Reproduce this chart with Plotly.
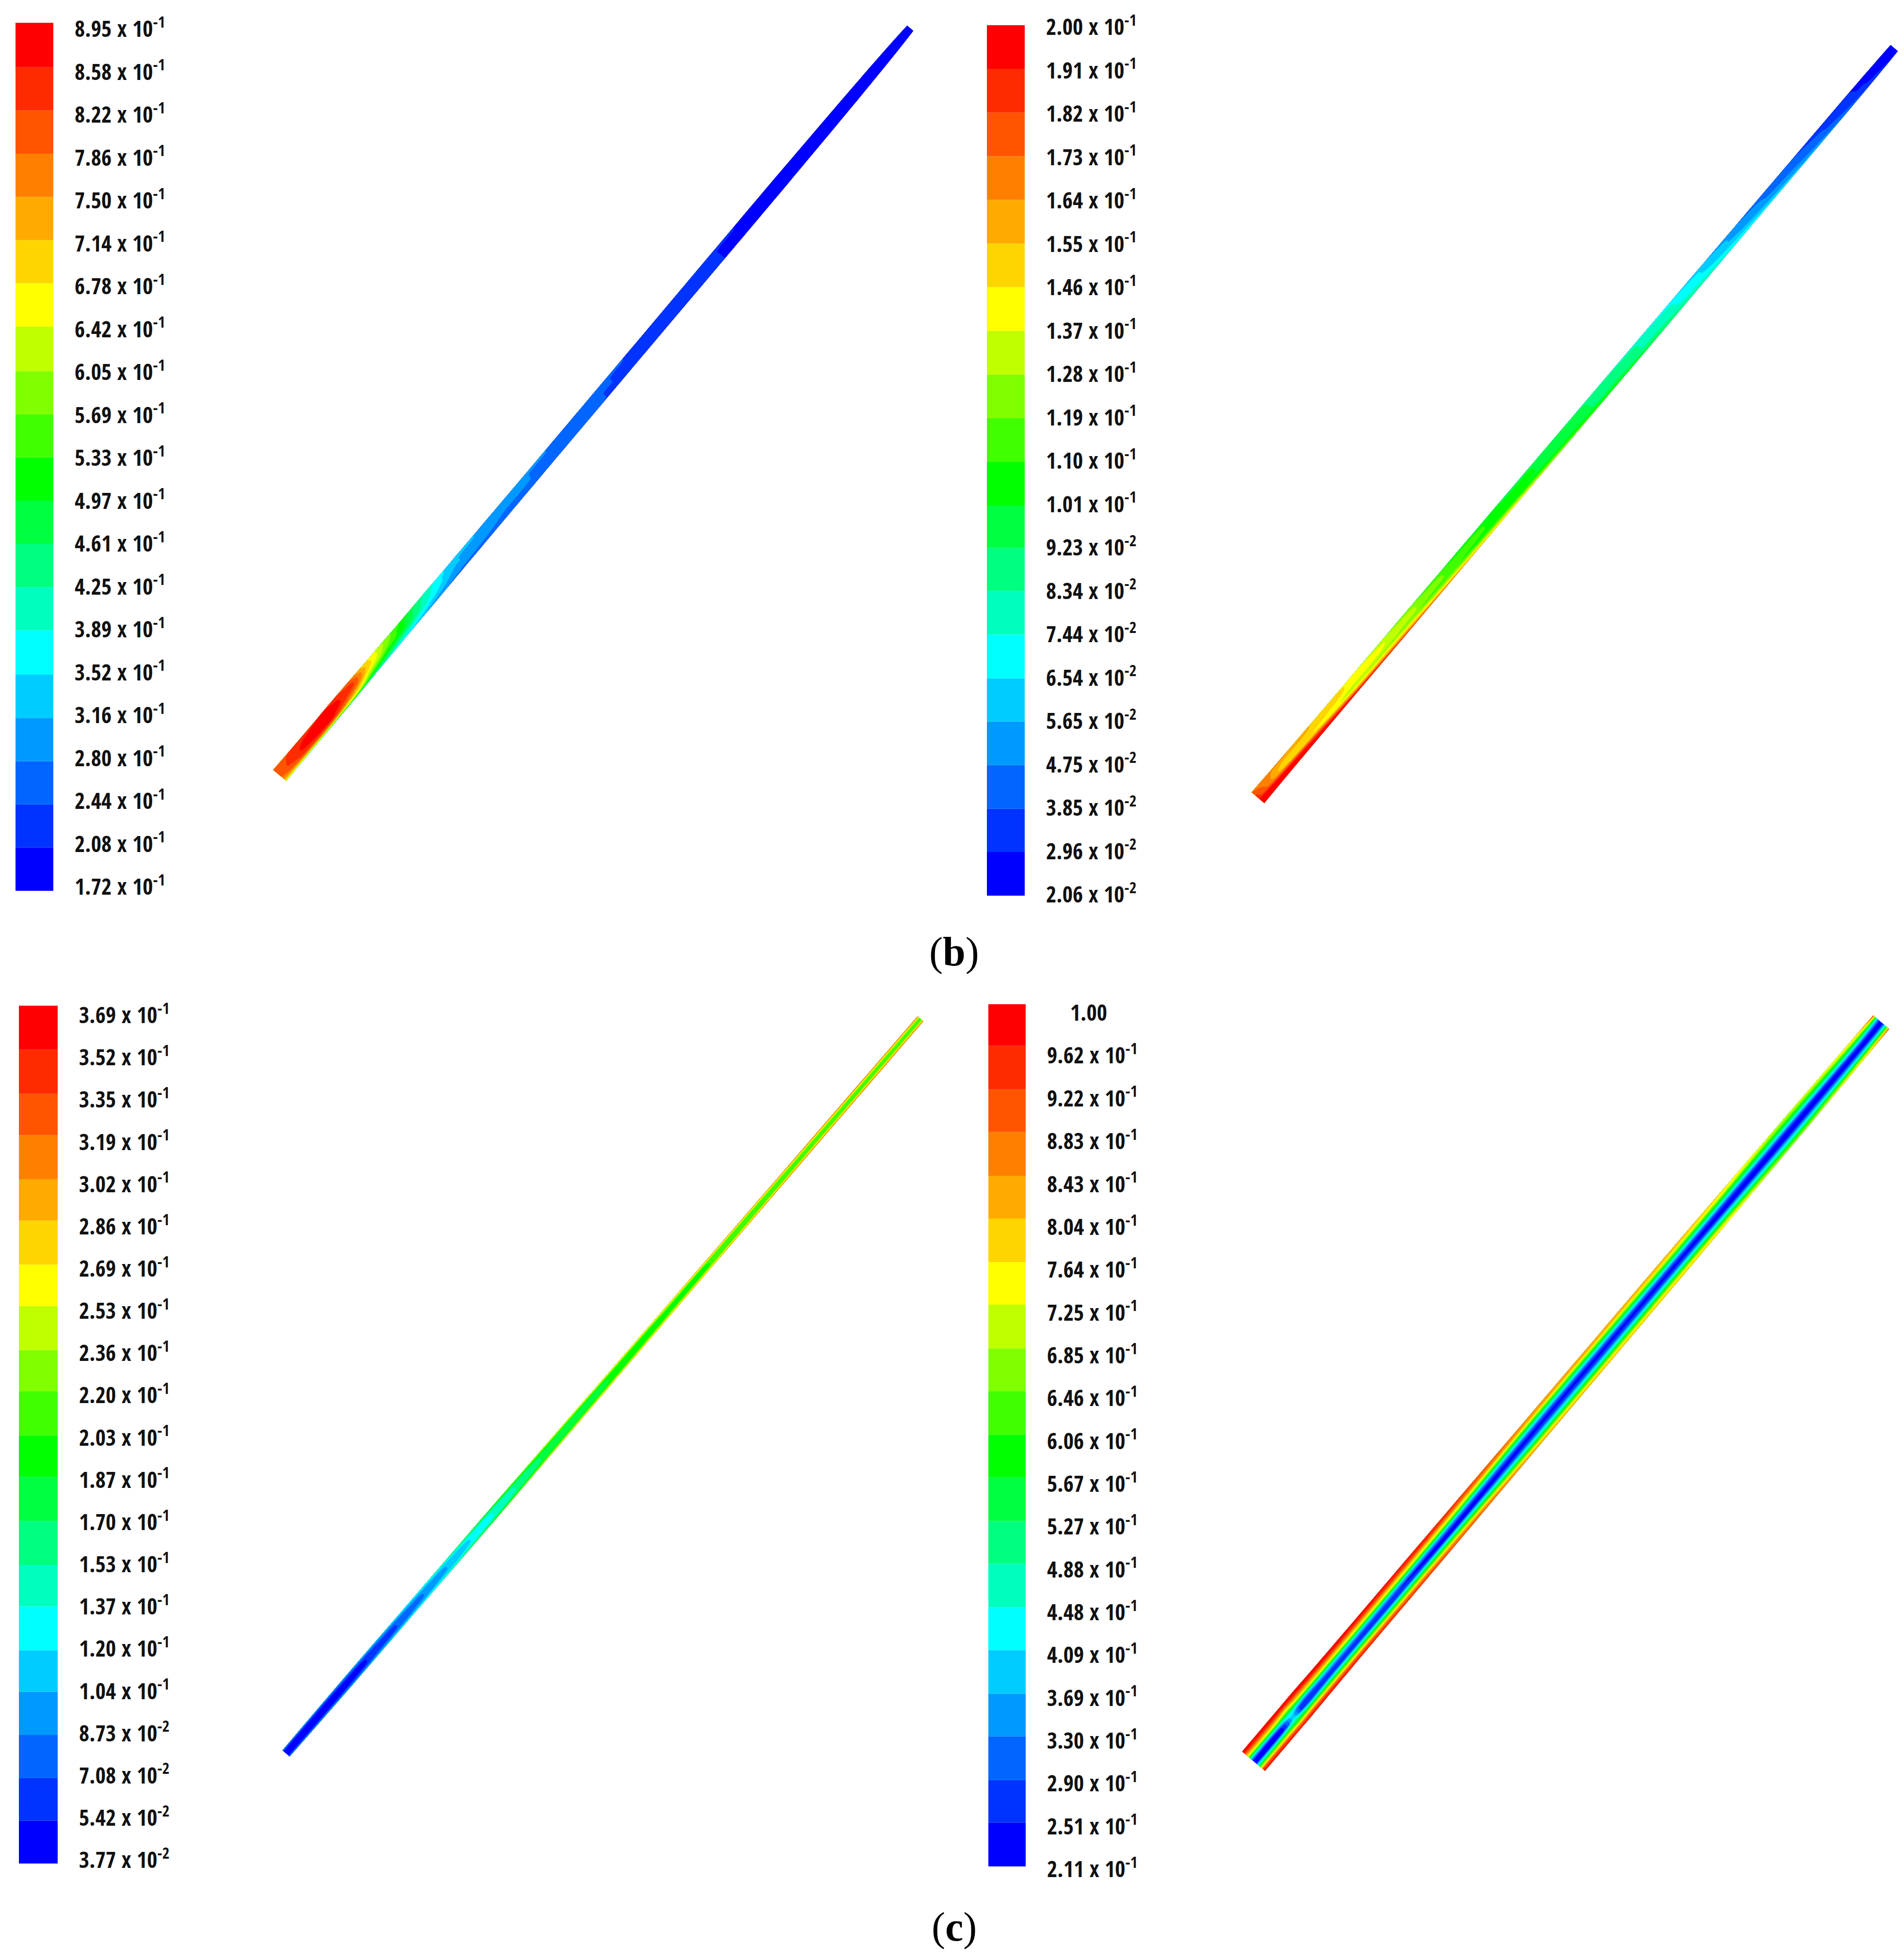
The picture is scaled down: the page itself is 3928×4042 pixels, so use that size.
import plotly.graph_objects as go

FIG_W, FIG_H = 3928, 4042

# 20 discrete legend colours, low to high
BAND_COLORS = [
    "#0000ff", "#0033ff", "#0066ff", "#0099ff", "#00ccff",
    "#00ffff", "#00ffbf", "#00ff80", "#00ff40", "#00ff00",
    "#40ff00", "#80ff00", "#bfff00", "#ffff00", "#ffd500",
    "#ffaa00", "#ff8000", "#ff5500", "#ff2b00", "#ff0000",
]

# Legend values (top to bottom in the picture, stored low to high)
LEVELS_B_LEFT = [0.172, 0.208, 0.244, 0.280, 0.316, 0.352, 0.389, 0.425, 0.461, 0.497, 0.533,
                 0.569, 0.605, 0.642, 0.678, 0.714, 0.750, 0.786, 0.822, 0.858, 0.895]
LEVELS_B_RIGHT = [0.0206, 0.0296, 0.0385, 0.0475, 0.0565, 0.0654, 0.0744, 0.0834, 0.0923, 0.101, 0.110,
                  0.119, 0.128, 0.137, 0.146, 0.155, 0.164, 0.173, 0.182, 0.191, 0.200]
LEVELS_C_LEFT = [0.0377, 0.0542, 0.0708, 0.0873, 0.104, 0.120, 0.137, 0.153, 0.170, 0.187, 0.203,
                 0.220, 0.236, 0.253, 0.269, 0.286, 0.302, 0.319, 0.335, 0.352, 0.369]
LEVELS_C_RIGHT = [0.211, 0.251, 0.290, 0.330, 0.369, 0.409, 0.448, 0.488, 0.527, 0.567, 0.606,
                  0.646, 0.685, 0.725, 0.764, 0.804, 0.843, 0.883, 0.922, 0.962, 1.00]

# Across the strip: 0 = upper-left edge, 1 = lower-right edge
ACROSS = [0, 0.1, 0.25, 0.4, 0.5, 0.6, 0.75, 0.9, 1]

# Along the strip: 0 = lower-left end, 1 = upper-right end; one row per station
STATIONS_B_LEFT = [0, 0.04, 0.08, 0.12, 0.14, 0.17, 0.20, 0.235, 0.28, 0.40, 0.60, 0.80, 0.95, 1]
WIDTH_B_LEFT = [36, 34, 34, 33, 32, 31, 30, 30, 29, 28, 28, 28, 23, 17]
FIELD_B_LEFT = [
    [.79, .80, .80, .80, .80, .79, .77, .72, .60],
    [.84, .85, .86, .87, .87, .86, .84, .75, .55],
    [.86, .87, .88, .89, .89, .88, .85, .72, .50],
    [.78, .80, .83, .82, .80, .76, .70, .60, .46],
    [.70, .71, .72, .70, .68, .64, .58, .50, .42],
    [.60, .61, .60, .58, .56, .53, .48, .43, .38],
    [.53, .52, .50, .50, .49, .47, .42, .38, .34],
    [.43, .42, .41, .40, .39, .38, .35, .32, .29],
    [.33, .33, .32, .32, .31, .30, .29, .28, .27],
    [.29, .29, .28, .28, .28, .27, .27, .27, .26],
    [.23, .23, .225, .225, .225, .225, .225, .225, .225],
    [.195, .195, .19, .19, .19, .19, .19, .19, .19],
    [.18, .18, .18, .18, .18, .18, .18, .18, .18],
    [.175, .175, .175, .175, .175, .175, .175, .175, .175],
]

STATIONS_B_RIGHT = [0, 0.04, 0.09, 0.15, 0.22, 0.30, 0.40, 0.50, 0.63, 0.77, 0.88, 0.95, 1]
WIDTH_B_RIGHT = [35, 33, 32, 31, 31, 30, 29, 28, 27, 25, 24, 23, 20]
FIELD_B_RIGHT = [
    [.172, .175, .18, .185, .185, .19, .195, .198, .198],
    [.17, .16, .155, .15, .155, .17, .195, .20, .20],
    [.155, .155, .152, .148, .145, .15, .18, .20, .20],
    [.14, .145, .145, .142, .135, .13, .148, .18, .197],
    [.125, .13, .135, .135, .13, .125, .14, .165, .19],
    [.11, .112, .118, .118, .115, .112, .125, .145, .175],
    [.10, .10, .105, .105, .105, .103, .11, .13, .15],
    [.09, .095, .095, .095, .095, .095, .10, .11, .125],
    [.07, .075, .08, .08, .08, .08, .085, .09, .10],
    [.045, .048, .05, .05, .052, .055, .06, .068, .075],
    [.035, .036, .038, .04, .04, .042, .045, .05, .06],
    [.028, .028, .028, .028, .03, .03, .032, .036, .04],
    [.022, .022, .022, .022, .022, .023, .024, .026, .03],
]

STATIONS_C_LEFT = [0, 0.1, 0.2, 0.3, 0.4, 0.6, 0.8, 1]
WIDTH_C_LEFT = [20, 23, 23, 23, 22, 19, 17, 16]
FIELD_C_LEFT = [
    [.10, .07, .045, .04, .04, .04, .045, .07, .10],
    [.11, .08, .055, .045, .045, .045, .055, .08, .11],
    [.14, .11, .09, .08, .08, .08, .09, .11, .14],
    [.20, .16, .13, .125, .125, .125, .13, .16, .20],
    [.26, .21, .175, .17, .17, .17, .175, .21, .26],
    [.30, .25, .205, .20, .20, .20, .205, .25, .30],
    [.33, .28, .225, .21, .21, .21, .225, .28, .33],
    [.33, .29, .23, .215, .21, .215, .23, .29, .33],
]

STATIONS_C_RIGHT = [0, 0.045, 0.061, 0.077, 0.12, 0.30, 0.45, 0.70, 0.85, 0.97, 1]
WIDTH_C_RIGHT = [62, 62, 62, 62, 60, 58, 56, 53, 49, 45, 43]
FIELD_C_RIGHT = [
    [1.0, .95, .75, .38, .23, .23, .55, .90, .99],
    [1.0, .95, .75, .40, .25, .25, .58, .90, .98],
    [1.0, .94, .70, .44, .40, .40, .56, .88, .98],
    [1.0, .95, .75, .40, .25, .25, .58, .90, .98],
    [1.0, .95, .75, .40, .27, .27, .58, .90, .98],
    [.97, .91, .70, .36, .24, .25, .56, .84, .93],
    [.87, .81, .54, .30, .23, .27, .48, .74, .85],
    [.82, .76, .54, .30, .23, .26, .48, .72, .80],
    [.72, .66, .50, .28, .22, .22, .40, .60, .70],
    [.80, .70, .50, .28, .22, .24, .42, .68, .82],
    [.95, .70, .40, .25, .22, .25, .45, .70, .95],
]

CAPTIONS = ["(<b>b</b>)", "(<b>c</b>)"]

# Layout: pixels in the 3928x4042 page
PANELS = [
    dict(levels=LEVELS_B_LEFT, stations=STATIONS_B_LEFT, width=WIDTH_B_LEFT, field=FIELD_B_LEFT,
         start=(577, 1600), end=(1878, 58), bar=(32, 110, 47, 1838), labels=(60, 1830), shift=0),
    dict(levels=LEVELS_B_RIGHT, stations=STATIONS_B_RIGHT, width=WIDTH_B_RIGHT, field=FIELD_B_RIGHT,
         start=(2595, 1646), end=(3908, 99), bar=(2036, 2114, 52, 1848), labels=(56, 1846), shift=0),
    dict(levels=LEVELS_C_LEFT, stations=STATIONS_C_LEFT, width=WIDTH_C_LEFT, field=FIELD_C_LEFT,
         start=(590, 3618), end=(1899, 2102), bar=(39, 119, 2075, 3845), labels=(2095, 3838), shift=0),
    dict(levels=LEVELS_C_RIGHT, stations=STATIONS_C_RIGHT, width=WIDTH_C_RIGHT, field=FIELD_C_RIGHT,
         start=(2586, 3634), end=(3881, 2109), bar=(2039, 2116, 2072, 3851), labels=(2083, 3850), shift=7),
]
LABEL_GAP = 43
LABEL_FONT = dict(family="Open Sans Condensed", size=46, color="#111111")
CAPTION_POS = [(1968, 1964), (1968, 3976)]


def tick_text(v):
    mant, exp = f"{v:.2e}".split("e")
    if int(exp) == 0:
        return "\u00a0\u00a0\u00a0\u00a0" + mant
    return f"{mant} x 10<sup>{int(exp)}</sup>"


n_bands = len(BAND_COLORS)
n_nodes = n_bands + 2
node_colors = [BAND_COLORS[0]] + BAND_COLORS + [BAND_COLORS[-1]]
field_scale = [[i / (n_nodes - 1), c] for i, c in enumerate(node_colors)]

fig = go.Figure()
layout = dict(
    width=FIG_W, height=FIG_H, autosize=False,
    margin=dict(l=0, r=0, t=0, b=0, pad=0),
    paper_bgcolor="white", plot_bgcolor="white", showlegend=False,
    xaxis=dict(domain=[0, 1], range=[0, FIG_W], visible=False),
    yaxis=dict(domain=[0, 1], range=[FIG_H, 0], visible=False),
    barmode="overlay",
)

for k, p in enumerate(PANELS):
    # the strip
    x0, y0 = p["start"]
    x1, y1 = p["end"]
    dx, dy = x1 - x0, y1 - y0
    ln = (dx * dx + dy * dy) ** 0.5
    nx, ny = dy / ln, -dx / ln        # pointing to the upper-left side
    xs, ys, zs = [], [], []
    for b_i, b in enumerate(ACROSS):
        rx, ry, rz = [], [], []
        for s_i, s in enumerate(p["stations"]):
            off = (0.5 - b) * p["width"][s_i]
            rx.append(x0 + s * dx + off * nx)
            ry.append(y0 + s * dy + off * ny)
            rz.append(p["field"][s_i][b_i])
        xs.append(rx); ys.append(ry); zs.append(rz)
    cid = f"c{k}"
    hidden = dict(showgrid=False, showline=False, startline=False, endline=False,
                  showticklabels="none", minorgridcount=0)
    fig.add_trace(go.Carpet(carpet=cid, a=p["stations"], b=ACROSS, x=xs, y=ys,
                            aaxis=hidden, baxis=hidden, xaxis="x", yaxis="y"))
    lv = p["levels"]
    fig.add_trace(go.Contourcarpet(
        carpet=cid, a=p["stations"], b=ACROSS, z=zs, xaxis="x", yaxis="y",
        autocontour=False, showscale=False, colorscale=field_scale,
        contours=dict(start=lv[0], end=lv[-1], size=(lv[-1] - lv[0]) / (len(lv) - 1),
                      coloring="fill", showlines=False),
        line=dict(width=0),
    ))

    # the legend bar, on its own axes
    ax = k + 2
    bx0, bx1, by0, by1 = p["bar"]
    fig.add_trace(go.Bar(
        x=[0] * n_bands, base=lv[:-1], y=[lv[i + 1] - lv[i] for i in range(n_bands)],
        width=1, marker=dict(color=BAND_COLORS, line=dict(width=0)),
        xaxis=f"x{ax}", yaxis=f"y{ax}",
    ))
    # tick labels sit slightly inside the band edges, as in the picture
    top, bot = p["labels"]
    def to_val(py):
        return lv[0] + (by1 - py) / (by1 - by0) * (lv[-1] - lv[0])
    label_pos = [to_val(bot + i * (top - bot) / (len(lv) - 1)) for i in range(len(lv))]
    layout[f"xaxis{ax}"] = dict(domain=[bx0 / FIG_W, bx1 / FIG_W], range=[-0.5, 0.5], visible=False,
                                anchor=f"y{ax}")
    layout[f"yaxis{ax}"] = dict(
        domain=[1 - by1 / FIG_H, 1 - by0 / FIG_H], range=[lv[0], lv[-1]], anchor=f"x{ax}",
        side="right", showgrid=False, zeroline=False, showline=False, ticks="",
        tickmode="array", tickvals=label_pos, ticktext=[tick_text(v) for v in lv],
        tickfont=LABEL_FONT, ticklabelstandoff=LABEL_GAP, ticklabelshift=p["shift"],
        automargin=False,
    )

layout["annotations"] = [
    dict(text=t, x=pos[0], y=pos[1], xref="x", yref="y", showarrow=False,
         xanchor="center", yanchor="middle",
         font=dict(family="Liberation Serif", size=84, color="black"))
    for t, pos in zip(CAPTIONS, CAPTION_POS)
]
fig.update_layout(**layout)
fig.write_html("out.html", post_script="document.body.style.margin='0';",
               config=dict(displayModeBar=False))
